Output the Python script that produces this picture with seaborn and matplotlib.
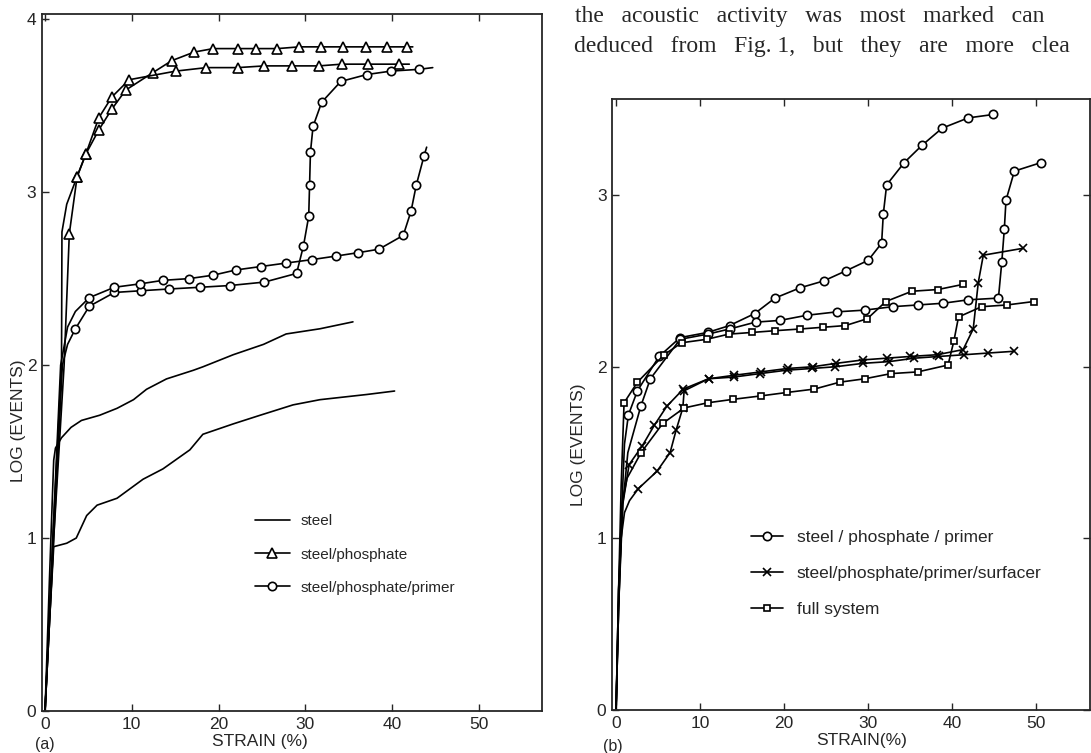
import matplotlib
matplotlib.use("Agg")
import matplotlib.pyplot as plt
from matplotlib.lines import Line2D
import seaborn as sns

# ---------------- panel (a) ----------------
# steel (no markers)
a_steel_hi_x = [0, 0.5, 1.0, 1.2, 1.9, 3.0, 4.2, 6.3, 8.3, 10.2, 11.7, 14.0, 17.1, 18.2, 21.7, 25.2, 27.8, 31.7, 35.5]
a_steel_hi_y = [0, 0.75, 1.45, 1.52, 1.58, 1.64, 1.68, 1.71, 1.75, 1.80, 1.86, 1.92, 1.97, 1.99, 2.06, 2.12, 2.18, 2.21, 2.25]
a_steel_lo_x = [0, 0.5, 1.0, 2.5, 3.6, 4.8, 6.0, 8.3, 11.3, 13.6, 16.7, 18.2, 21.7, 24.8, 28.6, 31.7, 37.1, 40.3]
a_steel_lo_y = [0, 0.5, 0.95, 0.97, 1.00, 1.13, 1.19, 1.23, 1.34, 1.40, 1.51, 1.60, 1.66, 1.71, 1.77, 1.80, 1.83, 1.85]

# steel/phosphate (triangles)
a_phos_hi_x = [0, 0.9, 1.9, 1.95, 2.5, 3.7, 4.7, 6.2, 7.7, 9.3, 12.4, 14.6, 17.2, 19.4, 22.3, 24.3, 26.8, 29.3,
               31.8, 34.3, 37.0, 39.4, 41.7, 42.4]
a_phos_hi_y = [0, 1.0, 2.0, 2.77, 2.93, 3.09, 3.22, 3.36, 3.48, 3.59, 3.69, 3.76, 3.81, 3.83, 3.83, 3.83, 3.83, 3.84,
               3.84, 3.84, 3.84, 3.84, 3.84, 3.84]
a_phos_lo_x = [0, 1.0, 2.2, 2.8, 3.7, 4.7, 6.2, 7.7, 9.7, 15.1, 18.6, 22.2, 25.3, 28.5, 31.6, 34.2, 37.2, 40.8, 42.0]
a_phos_lo_y = [0, 1.0, 2.0, 2.76, 3.09, 3.22, 3.43, 3.55, 3.65, 3.70, 3.72, 3.72, 3.73, 3.73, 3.73, 3.74, 3.74, 3.74, 3.74]

# steel/phosphate/primer (circles)
a_prim_1_x = [0, 1.0, 2.0, 2.6, 3.5, 5.1, 8.0, 11.1, 14.3, 17.9, 21.3, 25.3, 29.0, 29.8, 30.4, 30.5, 30.6, 30.9,
              31.9, 34.1, 37.1, 39.9, 43.1, 44.7]
a_prim_1_y = [0, 1.0, 2.0, 2.12, 2.21, 2.34, 2.42, 2.43, 2.44, 2.45, 2.46, 2.48, 2.53, 2.69, 2.86, 3.04, 3.23, 3.38,
              3.52, 3.64, 3.68, 3.70, 3.71, 3.72]
a_prim_2_x = [0, 0.9, 1.8, 2.6, 3.5, 5.1, 8.0, 11.0, 13.6, 16.6, 19.4, 22.0, 24.9, 27.8, 30.8, 33.5, 36.1, 38.5,
              41.3, 42.2, 42.8, 43.7, 44.0]
a_prim_2_y = [0, 1.0, 2.0, 2.22, 2.31, 2.39, 2.45, 2.47, 2.49, 2.50, 2.52, 2.55, 2.57, 2.59, 2.61, 2.63, 2.65, 2.67,
              2.75, 2.89, 3.04, 3.21, 3.26]

# ---------------- panel (b) ----------------
# steel/phosphate/primer (circles)
b_prim_1_x = [0, 0.3, 0.7, 1.0, 1.47, 2.54, 5.12, 7.62, 10.9, 13.5, 16.5, 18.9, 21.9, 24.7, 27.4, 30.0, 31.6, 31.8,
              32.2, 34.3, 36.4, 38.8, 41.9, 44.9]
b_prim_1_y = [0, 0.6, 1.2, 1.55, 1.72, 1.86, 2.06, 2.17, 2.20, 2.24, 2.31, 2.40, 2.46, 2.50, 2.56, 2.62, 2.72, 2.89,
              3.06, 3.19, 3.29, 3.39, 3.45, 3.47]
b_prim_2_x = [0, 0.3, 0.8, 1.4, 2.94, 4.08, 7.62, 10.9, 13.5, 16.6, 19.5, 22.7, 26.3, 29.6, 32.9, 35.9, 38.9, 41.9,
              45.5, 45.9, 46.2, 46.4, 47.4, 50.6]
b_prim_2_y = [0, 0.6, 1.2, 1.5, 1.77, 1.93, 2.16, 2.19, 2.22, 2.26, 2.27, 2.30, 2.32, 2.33, 2.35, 2.36, 2.37, 2.39,
              2.40, 2.61, 2.80, 2.97, 3.14, 3.19]

# steel/phosphate/primer/surfacer (crosses)
b_surf_1_x = [0, 0.3, 0.8, 1.55, 3.13, 4.56, 6.04, 8.0, 11.0, 14.0, 17.1, 20.3, 23.3, 26.1, 29.4, 32.5, 35.5, 38.4,
              41.4, 44.3, 47.3]
b_surf_1_y = [0, 0.7, 1.2, 1.43, 1.54, 1.66, 1.77, 1.87, 1.93, 1.94, 1.96, 1.98, 1.99, 2.00, 2.02, 2.03, 2.05, 2.06,
              2.07, 2.08, 2.09]
b_surf_2_x = [0, 0.3, 0.6, 1.0, 1.6, 2.65, 4.85, 6.43, 7.14, 7.94, 8.1, 11.0, 14.0, 17.2, 20.4, 23.4, 26.2, 29.4,
              32.2, 35.0, 38.2, 41.3, 42.5, 43.1, 43.7, 48.4]
b_surf_2_y = [0, 0.6, 1.0, 1.15, 1.22, 1.29, 1.39, 1.50, 1.63, 1.76, 1.86, 1.93, 1.95, 1.97, 1.99, 2.00, 2.02, 2.04,
              2.05, 2.06, 2.07, 2.10, 2.22, 2.49, 2.65, 2.69]

# full system (squares)
b_full_1_x = [0, 0.3, 0.6, 0.95, 2.54, 5.71, 7.82, 10.8, 13.4, 16.2, 18.9, 21.9, 24.6, 27.3, 29.9, 32.1, 35.2, 38.3, 41.3]
b_full_1_y = [0, 0.7, 1.3, 1.79, 1.91, 2.07, 2.14, 2.16, 2.19, 2.20, 2.21, 2.22, 2.23, 2.24, 2.28, 2.38, 2.44, 2.45, 2.48]
b_full_2_x = [0, 0.3, 0.7, 1.3, 2.98, 5.56, 8.1, 10.9, 13.9, 17.2, 20.3, 23.6, 26.6, 29.6, 32.7, 35.9, 39.5, 40.2,
              40.75, 43.5, 46.5, 49.7]
b_full_2_y = [0, 0.7, 1.2, 1.35, 1.50, 1.67, 1.76, 1.79, 1.81, 1.83, 1.85, 1.87, 1.91, 1.93, 1.96, 1.97, 2.01, 2.15,
              2.29, 2.35, 2.36, 2.38]

x_ticks = [0, 10, 20, 30, 40, 50]
a_y_ticks = [0, 1, 2, 3, 4]
b_y_ticks = [0, 1, 2, 3]

a_labels = ["steel", "steel/phosphate", "steel/phosphate/primer"]
b_labels = ["steel / phosphate / primer", "steel/phosphate/primer/surfacer", "full system"]

sns.set_style("ticks")
plt.rcParams["font.family"] = ["Liberation Sans", "DejaVu Sans"]


def curve(ax, x, y, marker=None, ms=6, mk=None):
    # thin black line, open markers on the measured points
    sns.lineplot(x=x, y=y, ax=ax, sort=False, estimator=None, color="black", linewidth=1.2,
                 marker=marker, markersize=ms, markerfacecolor="white", markeredgecolor="black",
                 markeredgewidth=1.2, markevery=mk)


fig = plt.figure(figsize=(10.91, 7.53), dpi=100)
ax_a = fig.add_axes([0.0385, 0.0558, 0.4583, 0.9256])
ax_b = fig.add_axes([0.561, 0.0571, 0.4381, 0.8114])

# panel (a)
curve(ax_a, a_steel_hi_x, a_steel_hi_y)
curve(ax_a, a_steel_lo_x, a_steel_lo_y)
curve(ax_a, a_phos_hi_x, a_phos_hi_y, "^", 6.5, slice(5, -1))
curve(ax_a, a_phos_lo_x, a_phos_lo_y, "^", 6.5, slice(3, -1))
curve(ax_a, a_prim_1_x, a_prim_1_y, "o", 6, slice(4, -1))
curve(ax_a, a_prim_2_x, a_prim_2_y, "o", 6, slice(5, -1))

# panel (b)
curve(ax_b, b_prim_1_x, b_prim_1_y, "o", 6, slice(4, None))
curve(ax_b, b_prim_2_x, b_prim_2_y, "o", 6, slice(4, None))
curve(ax_b, b_surf_1_x, b_surf_1_y, "x", 5.5, slice(3, None))
curve(ax_b, b_surf_2_x, b_surf_2_y, "x", 5.5, slice(5, None))
curve(ax_b, b_full_1_x, b_full_1_y, "s", 5, slice(3, None))
curve(ax_b, b_full_2_x, b_full_2_y, "s", 5, slice(4, None))

for ax in (ax_a, ax_b):
    ax.set_xticks(x_ticks)
    ax.tick_params(direction="in", length=5, width=1.0, labelsize=12.5, pad=4, top=True)
    for sp in ax.spines.values():
        sp.set_visible(True)
        sp.set_linewidth(1.3)

ax_a.set_xlim(-0.35, 57.3)
ax_a.set_ylim(0, 4.03)
ax_a.set_yticks(a_y_ticks)
ax_b.set_xlim(-0.48, 56.4)
ax_b.set_ylim(0, 3.56)
ax_b.set_yticks(b_y_ticks)
ax_b.tick_params(right=True)

ax_a.set_xlabel("STRAIN (%)", fontsize=12.5)
ax_a.set_ylabel("LOG (EVENTS)", fontsize=12.5)
ax_a.xaxis.set_label_coords(0.436, -0.033)
ax_a.yaxis.set_label_coords(-0.032, 0.416)
ax_b.set_xlabel("STRAIN(%)", fontsize=12.5)
ax_b.set_ylabel("LOG (EVENTS)", fontsize=12.5)
ax_b.xaxis.set_label_coords(0.523, -0.037)
ax_b.yaxis.set_label_coords(-0.055, 0.434)

hd_kw = dict(color="black", lw=1.2, mfc="white", mec="black", mew=1.2)
a_handles = [Line2D([], [], **hd_kw),
             Line2D([], [], marker="^", ms=6.5, **hd_kw),
             Line2D([], [], marker="o", ms=6, **hd_kw)]
ax_a.legend(a_handles, a_labels, frameon=False, loc="upper left", bbox_to_anchor=(0.425, 0.282),
            fontsize=11, handlelength=2.3, handletextpad=0.7, labelspacing=1.25, borderpad=0, borderaxespad=0)

b_handles = [Line2D([], [], marker="o", ms=6, **hd_kw),
             Line2D([], [], marker="x", ms=5.5, **hd_kw),
             Line2D([], [], marker="s", ms=5, **hd_kw)]
ax_b.legend(b_handles, b_labels, frameon=False, loc="upper left", bbox_to_anchor=(0.29, 0.295),
            fontsize=12.5, handlelength=1.85, handletextpad=0.8, labelspacing=1.2, borderpad=0, borderaxespad=0)

fig.text(45 / 1091, 1 - 745 / 753, "(a)", fontsize=11.5, ha="center", va="center")
fig.text(613 / 1091, 1 - 746 / 753, "(b)", fontsize=11.5, ha="center", va="center")

# body text of the page above panel (b)
serif = ["Liberation Serif", "DejaVu Serif"]
fig.text(575 / 1091, 1 - 22 / 753, "the   acoustic   activity   was   most   marked   can", fontsize=17,
         family=serif, ha="left", va="baseline")
fig.text(574 / 1091, 1 - 52 / 753, "deduced   from   Fig. 1,   but   they   are   more   clea", fontsize=17,
         family=serif, ha="left", va="baseline")

fig.savefig("out.png", dpi=100)
